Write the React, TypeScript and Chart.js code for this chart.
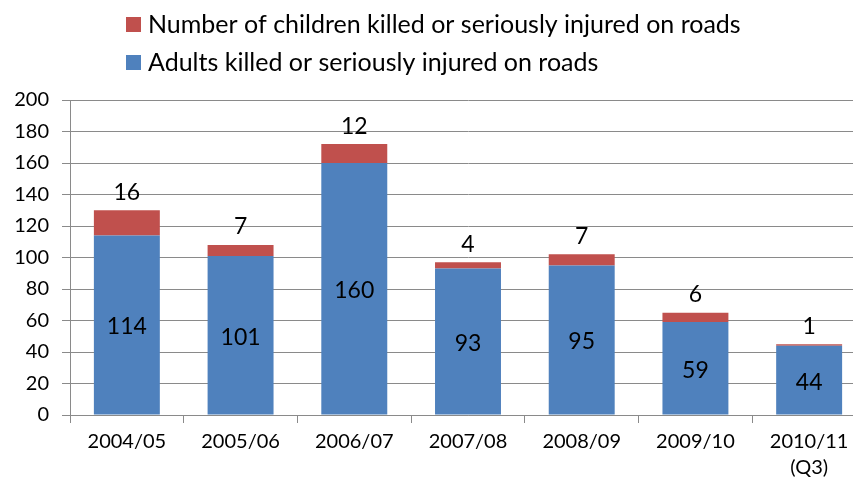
import React, { useEffect, useRef } from "react";
import { Chart, registerables } from "chart.js";

Chart.register(...registerables);

const categories: (string | string[])[] = [
  "2004/05",
  "2005/06",
  "2006/07",
  "2007/08",
  "2008/09",
  "2009/10",
  ["2010/11", "(Q3)"],
];
const adults = [114, 101, 160, 93, 95, 59, 44];
const children = [16, 7, 12, 4, 7, 6, 1];
const childrenLabel = "Number of children killed or seriously injured on roads";
const adultsLabel = "Adults killed or seriously injured on roads";

const RED = "#C0504D";
const BLUE = "#4F81BD";
const GRID = "#8a8a8a";
const FONT = "Lato, 'Open Sans', sans-serif";

const labelsPlugin = {
  id: "valueLabels",
  afterDatasetsDraw(chart: any) {
    const ctx = chart.ctx;
    ctx.save();
    ctx.fillStyle = "#000";
    ctx.font = `23px ${FONT}`;
    ctx.textAlign = "center";
    ctx.textBaseline = "middle";
    chart.data.datasets.forEach((ds: any, di: number) => {
      const meta = chart.getDatasetMeta(di);
      meta.data.forEach((el: any, i: number) => {
        const v = ds.data[i];
        if (di === 0) {
          ctx.fillText(String(v), el.x, (el.y + el.base) / 2 + 2);
        } else {
          ctx.fillText(String(v), el.x, el.y - 18);
        }
      });
    });
    ctx.restore();
  },
};

const legendPlugin = {
  id: "customLegend",
  afterDraw(chart: any) {
    const ctx = chart.ctx;
    ctx.save();
    ctx.font = `25px ${FONT}`;
    ctx.textAlign = "left";
    ctx.textBaseline = "middle";
    const items = [
      { color: RED, text: childrenLabel, y: 24 },
      { color: BLUE, text: adultsLabel, y: 62 },
    ];
    items.forEach((it) => {
      ctx.fillStyle = it.color;
      ctx.fillRect(126, it.y - 7, 15, 15);
      ctx.fillStyle = "#000";
      ctx.fillText(it.text, 148, it.y + 1);
    });
    ctx.restore();
  },
};

export default function App() {
  const ref = useRef<HTMLCanvasElement | null>(null);
  useEffect(() => {
    if (!ref.current) return;
    const chart = new Chart(ref.current, {
      type: "bar",
      data: {
        labels: categories as any,
        datasets: [
          {
            label: adultsLabel,
            data: adults,
            backgroundColor: BLUE,
            categoryPercentage: 1,
            barPercentage: 0.58,
          },
          {
            label: childrenLabel,
            data: children,
            backgroundColor: RED,
            categoryPercentage: 1,
            barPercentage: 0.58,
          },
        ],
      },
      options: {
        animation: false,
        responsive: true,
        maintainAspectRatio: false,
        layout: { padding: { top: 100, left: 0, right: 14, bottom: 0 } },
        plugins: {
          legend: { display: false },
          tooltip: { enabled: false },
        },
        scales: {
          x: {
            stacked: true,
            grid: {
              offset: true,
              drawOnChartArea: false,
              drawTicks: true,
              tickLength: 8,
              color: GRID,
            },
            border: { display: true, color: GRID },
            ticks: {
              color: "#000",
              font: { family: FONT, size: 20, lineHeight: 1.3 },
              padding: 6,
              maxRotation: 0,
              autoSkip: false,
            },
            afterFit(scale: any) {
              scale.height = 63;
            },
          },
          y: {
            stacked: true,
            min: 0,
            max: 200,
            ticks: {
              stepSize: 20,
              color: "#000",
              font: { family: FONT, size: 20 },
              padding: 13,
            },
            grid: { color: GRID, tickLength: 8 },
            border: { display: true, color: GRID },
            afterFit(scale: any) {
              scale.width = 70;
            },
          },
        },
      },
      plugins: [labelsPlugin, legendPlugin],
    });
    return () => chart.destroy();
  }, []);

  return (
    <div
      style={{
        position: "fixed",
        left: 0,
        top: 0,
        width: 853,
        height: 478,
        overflow: "hidden",
        background: "#fff",
      }}
    >
      <div style={{ position: "relative", width: 880, height: 478 }}>
        <canvas ref={ref} />
      </div>
    </div>
  );
}
